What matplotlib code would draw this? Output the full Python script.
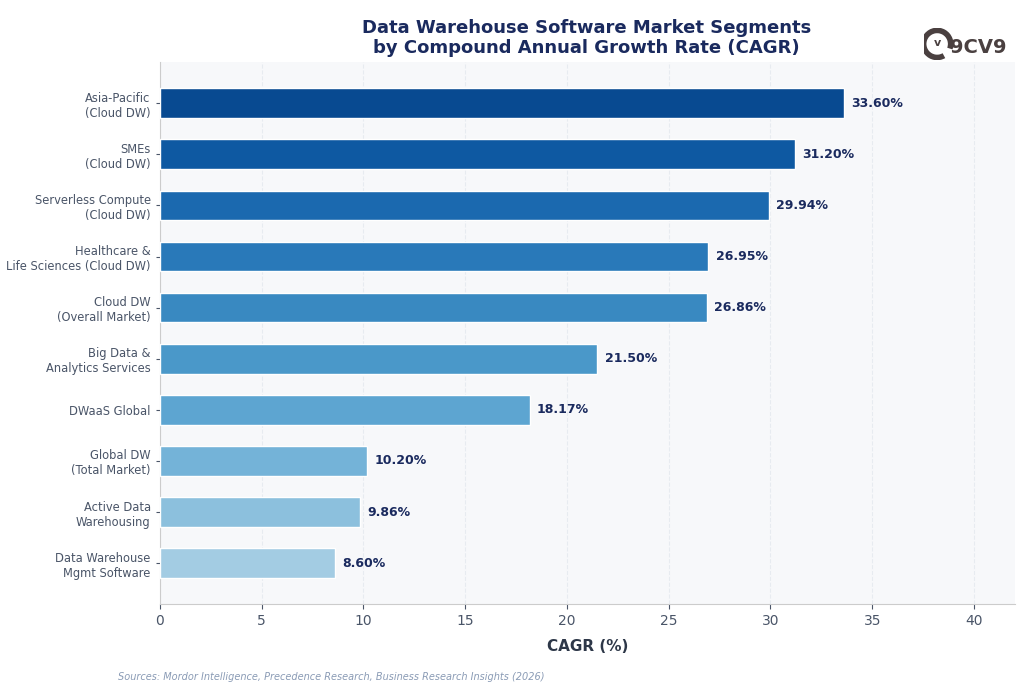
import matplotlib
matplotlib.use("Agg")
import matplotlib.pyplot as plt
from matplotlib.patches import Arc
import numpy as np

categories = ["Asia-Pacific\n(Cloud DW)", "SMEs\n(Cloud DW)", "Serverless Compute\n(Cloud DW)",
              "Healthcare &\nLife Sciences (Cloud DW)", "Cloud DW\n(Overall Market)",
              "Big Data &\nAnalytics Services", "DWaaS Global", "Global DW\n(Total Market)",
              "Active Data\nWarehousing", "Data Warehouse\nMgmt Software"]
values = [33.60, 31.20, 29.94, 26.95, 26.86, 21.50, 18.17, 10.20, 9.86, 8.60]

fig = plt.figure(figsize=(10.24, 6.92), dpi=100)
ax = fig.add_axes([0.156, 0.127, 0.835, 0.783])
ax.set_facecolor("#f7f8fa")
n = len(values)
colors = [plt.cm.Blues(v) for v in np.linspace(0.9, 0.36, n)]
y = np.arange(n)
ax.barh(y, values, height=0.58, color=colors, edgecolor="white", linewidth=1, zorder=3)
ax.set_yticks(y)
ax.set_yticklabels(categories, fontsize=8.3, color="#4a5568")
for yi, v in zip(y, values):
    ax.text(v + 0.35, yi, f"{v:.2f}%", va="center", ha="left", fontsize=9, fontweight="bold", color="#1a2a5e", zorder=4)
ax.set_xlim(0, 42)
ax.set_ylim(n - 0.2, -0.8)
ax.set_xticks(range(0, 41, 5))
ax.tick_params(axis="x", labelsize=10, colors="#4a5568")
ax.tick_params(axis="y", length=3, colors="#4a5568")
ax.grid(axis="x", linestyle="--", color="#dde3ea", linewidth=0.8, zorder=5, alpha=0.6)
for s in ["top", "right"]:
    ax.spines[s].set_visible(False)
for s in ["left", "bottom"]:
    ax.spines[s].set_color("#cccccc")
ax.set_xlabel("CAGR (%)", fontsize=11, fontweight="bold", color="#2d3748", labelpad=8)
fig.text(0.573, 0.972, "Data Warehouse Software Market Segments\nby Compound Annual Growth Rate (CAGR)",
         ha="center", va="top", fontsize=13, fontweight="bold", color="#1a2a5e", linespacing=1.1)
fig.text(0.115, 0.018, "Sources: Mordor Intelligence, Precedence Research, Business Research Insights (2026)",
         fontsize=7, style="italic", color="#8a9bb5")
# logo
lax = fig.add_axes([0.902, 0.905, 0.095, 0.063])
lax.set_xlim(0, 3.6)
lax.set_ylim(-0.6, 0.6)
lax.set_aspect("equal")
lax.axis("off")
lax.add_patch(Arc((0.5, 0.0), 1.0, 1.0, theta1=-20, theta2=300, lw=4, color="#4a4040"))
lax.text(0.5, 0.05, "v", fontsize=8, fontweight="bold", color="#4a4040", ha="center", va="center")
lax.text(0.98, -0.12, "9CV9", fontsize=14, fontweight="bold", color="#4a4040", ha="left", va="center")
fig.savefig("out.png", dpi=100, facecolor="white")
